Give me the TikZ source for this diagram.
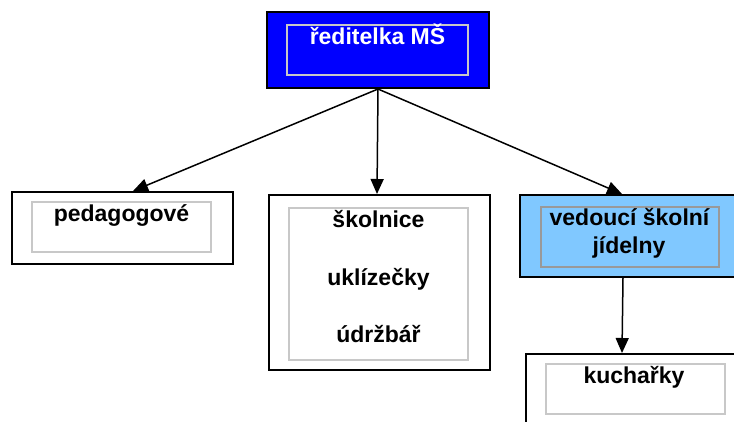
\documentclass[tikz,border=0pt]{standalone}
\usepackage{fontspec}
\setmainfont{Liberation Sans}
\usetikzlibrary{arrows.meta,calc}
\definecolor{topblue}{RGB}{0,0,255}
\definecolor{lightblue}{RGB}{128,200,255}
\definecolor{innergray}{RGB}{200,200,200}
\begin{document}
\begin{tikzpicture}[x=1pt,y=-1pt,
  outerbox/.style={draw=black,line width=2pt,inner sep=0pt,anchor=north west},
  innerbox/.style={draw=innergray,line width=1.5pt,inner sep=0pt,anchor=north west},
  lbl/.style={font=\fontsize{23}{28}\selectfont\bfseries,anchor=base,inner sep=0pt},
  arr/.style={-{Triangle[length=15pt,width=13pt]},line width=1.5pt}]
\useasboundingbox (0,0) rectangle (734,421);
\clip (0,0) rectangle (734,421);
\fill[white] (0,0) rectangle (734,421);
% top box
\node[outerbox,fill=topblue,minimum width=222pt,minimum height=76pt] (dir) at (266,11) {};
\node[innerbox,minimum width=181pt,minimum height=50pt] (dirin) at (286,24) {};
\node[lbl,text=white] (dirt) at (377.5,44) {ředitelka MŠ};
% left box
\node[outerbox,minimum width=221pt,minimum height=72pt] (ped) at (11,191) {};
\node[innerbox,minimum width=179pt,minimum height=50pt] (pedin) at (31,201) {};
\node[lbl] (pedt) at (121.5,221) {pedagogové};
% middle box
\node[outerbox,minimum width=221pt,minimum height=175pt] (mid) at (268,194) {};
\node[innerbox,minimum width=179pt,minimum height=152pt] (midin) at (288,207) {};
\node[lbl] (midt1) at (378.5,227) {školnice};
\node[lbl] (midt2) at (378.5,285) {uklízečky};
\node[lbl] (midt3) at (378.5,342) {údržbář};
% right box
\node[outerbox,fill=lightblue,minimum width=230pt,minimum height=82pt] (ved) at (519,194) {};
\node[innerbox,draw=gray!80,minimum width=178pt,minimum height=60pt] (vedin) at (540,206) {};
\node[lbl] (vedt1) at (629.5,225) {vedoucí školní};
\node[lbl] (vedt2) at (629,253) {jídelny};
% bottom box
\node[outerbox,minimum width=230pt,minimum height=90pt] (kuch) at (525,353) {};
\node[innerbox,minimum width=179pt,minimum height=50pt] (kuchin) at (545,363) {};
\node[lbl] (kucht) at (634,383) {kuchařky};
% arrows
\draw[arr] (dir.south) -- ($(ped.north west)+(122,0)$);
\draw[arr] (dir.south) -- ($(mid.north west)+(109,0)$);
\draw[arr] (dir.south) -- ($(ved.north west)+(103,0)$);
\draw[arr] ($(ved.south west)+(104,0)$) -- ($(kuch.north west)+(97,0)$);
\end{tikzpicture}
\end{document}
